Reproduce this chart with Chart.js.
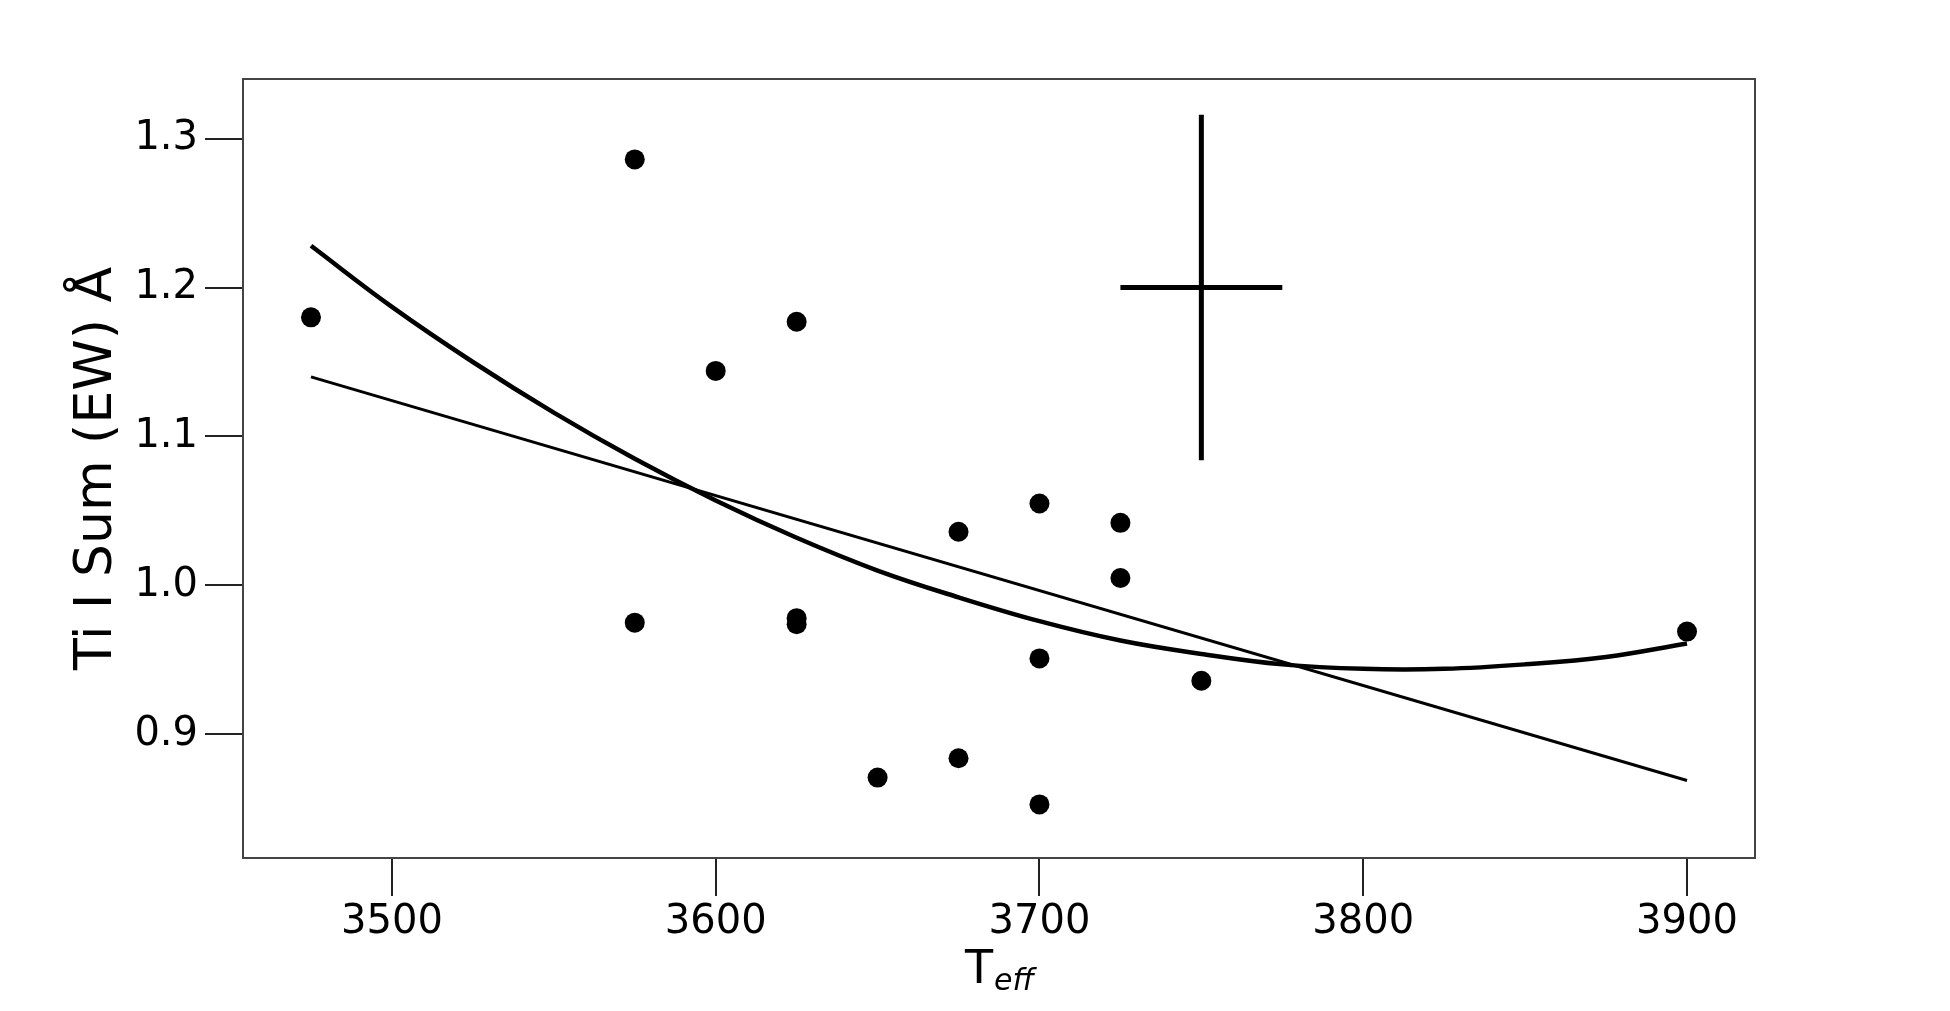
<!DOCTYPE html>
<html><head><meta charset="utf-8">
<script src="https://cdn.jsdelivr.net/npm/chart.js@4.4.1/dist/chart.umd.min.js"></script>
<style>html,body{margin:0;padding:0;background:#fff;}</style>
</head><body>
<canvas id="c" width="1950" height="1011"></canvas>
<script>
// Observed stars
const teff  = [3475, 3575, 3575, 3600, 3625, 3625, 3625, 3650, 3675, 3675, 3700, 3700, 3700, 3725, 3725, 3750, 3900];
const ewSum = [1.180, 1.286, 0.975, 1.144, 1.177, 0.978, 0.974, 0.871, 1.036, 0.884, 1.055, 0.951, 0.853, 1.042, 1.005, 0.936, 0.969];
// Quadratic fit curve
const quadTeff = [3475, 3500, 3525, 3550, 3575, 3600, 3625, 3650, 3675, 3700, 3725, 3750, 3775, 3800, 3825, 3850, 3875, 3900];
const quadEw   = [1.228, 1.187, 1.150, 1.116, 1.085, 1.057, 1.032, 1.010, 0.992, 0.976, 0.963, 0.954, 0.947, 0.944, 0.944, 0.947, 0.952, 0.961];
// Linear fit
const linTeff = [3475, 3900];
const linEw   = [1.140, 0.869];
// Typical error cross
const errCenter = [3750, 1.2];
const errHalfX = 25;
const errHalfY = 0.116;
// Axes
const xTicks = [3500, 3600, 3700, 3800, 3900];
const yTicks = [0.9, 1.0, 1.1, 1.2, 1.3];
const xRange = [3454, 3921];
const yRange = [0.817, 1.340];

const pts = teff.map((t, i) => ({x: t, y: ewSum[i]}));
const quad = quadTeff.map((t, i) => ({x: t, y: quadEw[i]}));
const lin = linTeff.map((t, i) => ({x: t, y: linEw[i]}));
const errH = [{x: errCenter[0] - errHalfX, y: errCenter[1]}, {x: errCenter[0] + errHalfX, y: errCenter[1]}];
const errV = [{x: errCenter[0], y: errCenter[1] - errHalfY}, {x: errCenter[0], y: errCenter[1] + errHalfY}];

const FONT = "'DejaVu Sans', sans-serif";

const framePlugin = {
  id: 'frame',
  afterDatasetsDraw(chart) {
    const {ctx, chartArea: a} = chart;
    ctx.save();
    ctx.strokeStyle = '#444';
    ctx.lineWidth = 2;
    ctx.strokeRect(a.left, a.top, a.right - a.left, a.bottom - a.top);
    ctx.restore();
  },
  afterDraw(chart) {
    const {ctx, chartArea: a} = chart;
    ctx.save();
    ctx.fillStyle = '#000';
    ctx.textBaseline = 'alphabetic';
    ctx.textAlign = 'left';
    const fT = "46px " + FONT;
    const fS = "italic 30px " + FONT;
    ctx.font = fT; const wT = ctx.measureText('T').width;
    ctx.font = fS; const wS = ctx.measureText('eff').width;
    const cx = (a.left + a.right) / 2;
    const x0 = cx - (wT + wS) / 2;
    const base = a.bottom + 125;
    ctx.font = fT; ctx.fillText('T', x0, base);
    ctx.font = fS; ctx.fillText('eff', x0 + wT + 1, base + 7);
    ctx.restore();
  }
};

new Chart(document.getElementById('c'), {
  type: 'scatter',
  data: {
    datasets: [
      {data: lin, showLine: true, borderColor: '#000', borderWidth: 3, pointRadius: 0, fill: false},
      {data: quad, showLine: true, borderColor: '#000', borderWidth: 4.5, pointRadius: 0, fill: false, tension: 0.4},
      {data: errH, showLine: true, borderColor: '#000', borderWidth: 5, pointRadius: 0, borderCapStyle: 'butt'},
      {data: errV, showLine: true, borderColor: '#000', borderWidth: 5, pointRadius: 0, borderCapStyle: 'butt'},
      {data: pts, showLine: false, pointRadius: 10, pointHoverRadius: 10, backgroundColor: '#000', borderWidth: 0, pointStyle: 'circle'}
    ]
  },
  options: {
    responsive: false,
    animation: false,
    devicePixelRatio: 1,
    layout: {padding: {left: 0, right: 195, top: 79, bottom: 0}},
    plugins: {legend: {display: false}, tooltip: {enabled: false}},
    scales: {
      x: {
        type: 'linear', min: xRange[0], max: xRange[1],
        afterBuildTicks: s => { s.ticks = xTicks.map(v => ({value: v})); },
        afterFit: s => { s.height = 153; },
        grid: {display: true, drawOnChartArea: false, drawTicks: true, tickLength: 38, color: '#222', lineWidth: 2},
        border: {display: false},
        ticks: {color: '#000', font: {family: FONT, size: 40}, padding: 3, maxRotation: 0, callback: v => String(v)},
        title: {display: false}
      },
      y: {
        type: 'linear', min: yRange[0], max: yRange[1],
        afterBuildTicks: s => { s.ticks = yTicks.map(v => ({value: v})); },
        afterFit: s => { s.width = 243; },
        grid: {display: true, drawOnChartArea: false, drawTicks: true, tickLength: 38, color: '#222', lineWidth: 2},
        border: {display: false},
        ticks: {color: '#000', font: {family: FONT, size: 40}, padding: 7, callback: v => Number(v).toFixed(1)},
        title: {display: true, text: 'Ti I Sum (EW) Å', color: '#000', font: {family: FONT, size: 52}, padding: {top: 66, bottom: 0}}
      }
    }
  },
  plugins: [framePlugin]
});
</script>
</body></html>
